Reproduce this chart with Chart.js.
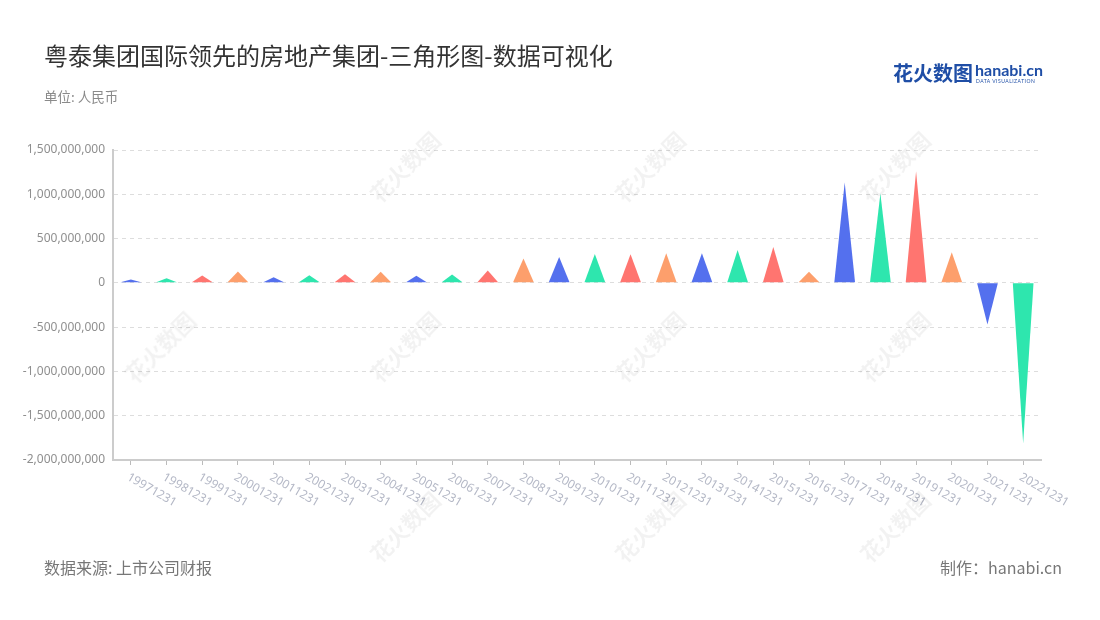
<!DOCTYPE html>
<html>
<head>
<meta charset="utf-8">
<script src="https://cdn.jsdelivr.net/npm/chart.js@4.4.1/dist/chart.umd.min.js"></script>
<style>
  body { margin: 0; background: #fff; font-family: "Noto Sans CJK SC", "Noto Sans", sans-serif; }
  #wrap { position: relative; width: 1100px; height: 620px; overflow: hidden; }
  #chart { position: absolute; left: 0; top: 0; }
  .title { position: absolute; left: 44px; top: 37px; font-size: 24px; color: #333; }
  .unit { position: absolute; left: 44px; top: 86px; font-size: 13.5px; color: #8a8a8a; }
  .source { position: absolute; left: 44px; top: 555px; font-size: 16px; color: #777; }
  .maker { position: absolute; right: 38px; top: 555px; font-size: 16px; color: #777; }
  .logo { position: absolute; left: 893px; top: 58px; }
  .logo .cn { font-size: 20px; font-weight: bold; color: #1f4ea6; }
  .logo .en { position: absolute; left: 82px; top: 2px; font-family: "Lato", sans-serif; font-size: 16px; font-weight: bold; color: #1f4ea6; }
  .logo .sub { position: absolute; left: 83px; top: 20px; font-family: "Lato", sans-serif; font-size: 5px; color: #1f4ea6; letter-spacing: 0.5px; white-space: nowrap; }
  .wm { position: absolute; color: rgba(0,0,0,0.05); font-size: 22px; font-weight: bold; transform: rotate(-45deg); white-space: nowrap; pointer-events: none; }
</style>
</head>
<body>
<div id="wrap">
  <canvas id="chart" width="1100" height="620"></canvas>
  <div class="title">粤泰集团国际领先的房地产集团-三角形图-数据可视化</div>
  <div class="unit">单位: 人民币</div>
  <div class="logo"><span class="cn">花火数图</span><span class="en">hanabi.cn</span><span class="sub">DATA VISUALIZATION</span></div>
  <div class="source">数据来源: 上市公司财报</div>
  <div class="maker">制作：hanabi.cn</div>
</div>
<script>
// categories (report dates)
const periods = ['19971231', '19981231', '19991231', '20001231', '20011231', '20021231', '20031231',
    '20041231', '20051231', '20061231', '20071231', '20081231', '20091231', '20101231', '20111231',
    '20121231', '20131231', '20141231', '20151231', '20161231', '20171231', '20181231', '20191231',
    '20201231', '20211231', '20221231']

// values (RMB)
const profit = [38e6, 53e6, 83e6, 128e6, 64e6, 87e6, 98e6, 124e6, 79e6, 95e6, 140e6, 275e6, 293e6,
    327e6, 324e6, 335e6, 335e6, 372e6, 406e6, 124e6, 1132e6, 1008e6, 1260e6, 346e6, -469e6, -1811e6]

const yTicks = [-2e9, -1.5e9, -1e9, -5e8, 0, 5e8, 1e9, 1.5e9]

const barColors = ['#5470ee', '#2ee6ae', '#ff7570', '#fd9f6c']

/*===== watermarks =====*/
const wrap = document.getElementById('wrap')
const wmPos = [[360, 150], [605, 150], [850, 150], [115, 330], [360, 330], [605, 330], [850, 330],
    [360, 510], [605, 510], [850, 510]]
wmPos.forEach(p => {
    const d = document.createElement('div')
    d.className = 'wm'
    d.style.left = p[0] + 'px'
    d.style.top = p[1] + 'px'
    d.textContent = '花火数图'
    wrap.appendChild(d)
})

/*===== triangles drawn on the bar elements =====*/
const trianglePlugin = {
    id: 'triangles',
    afterDatasetsDraw(chart) {
        const ctx = chart.ctx
        chart.getDatasetMeta(0).data.forEach((bar, i) => {
            const p = bar.getProps(['x', 'y', 'base', 'width'], true)
            ctx.save()
            ctx.fillStyle = barColors[i % barColors.length]
            ctx.beginPath()
            ctx.moveTo(p.x - p.width / 2, p.base)
            ctx.lineTo(p.x, p.y)
            ctx.lineTo(p.x + p.width / 2, p.base)
            ctx.closePath()
            ctx.fill()
            ctx.restore()
        })
    },
    // rotated x labels, going down to the right
    afterDraw(chart) {
        const ctx = chart.ctx
        const xs = chart.scales.x
        ctx.save()
        ctx.font = '12px "Noto Sans", sans-serif'
        ctx.fillStyle = '#b4b8c6'
        ctx.textAlign = 'left'
        ctx.textBaseline = 'top'
        xs.ticks.forEach((t, i) => {
            const x = xs.getPixelForTick(i)
            ctx.save()
            ctx.translate(x, xs.top + 11)
            ctx.rotate(Math.PI / 6)
            ctx.fillText(periods[i], 0, 0)
            ctx.restore()
        })
        ctx.restore()
    }
}

const ctx = document.getElementById('chart').getContext('2d')
const myChart = new Chart(ctx, {
    type: 'bar',
    data: {
        labels: periods,
        datasets: [{
            data: profit,
            backgroundColor: 'rgba(0,0,0,0)',
            borderWidth: 0,
            categoryPercentage: 1,
            barPercentage: 0.58
        }]
    },
    options: {
        responsive: false,
        animation: false,
        layout: { padding: { left: 0, top: 150, right: 59, bottom: 0 } },
        plugins: {
            legend: { display: false },
            tooltip: { enabled: false }
        },
        scales: {
            y: {
                min: -2e9,
                max: 1.5e9,
                afterFit: s => { s.width = 113 },
                afterBuildTicks: s => { s.ticks = yTicks.map(v => ({ value: v })) },
                // in v4 border.dash dashes the grid lines
                border: { display: true, color: '#cccccc', width: 2, dash: [4, 4] },
                grid: {
                    color: '#dddddd',
                    lineWidth: 1,
                    drawTicks: false
                },
                ticks: {
                    padding: 8,
                    color: '#8f8f8f',
                    font: { size: 12, family: '"Noto Sans", sans-serif' },
                    callback: v => v.toLocaleString('en-US')
                }
            },
            x: {
                afterFit: s => { s.height = 160 },
                border: { color: '#cccccc', width: 2 },
                grid: {
                    display: true,
                    offset: false,
                    drawOnChartArea: false,
                    color: '#bbbbbb',
                    tickLength: 5
                },
                ticks: {
                    autoSkip: false,
                    maxRotation: 0,
                    color: 'rgba(0,0,0,0)',
                    font: { size: 12 }
                }
            }
        }
    },
    plugins: [trianglePlugin]
})
</script>
</body>
</html>
